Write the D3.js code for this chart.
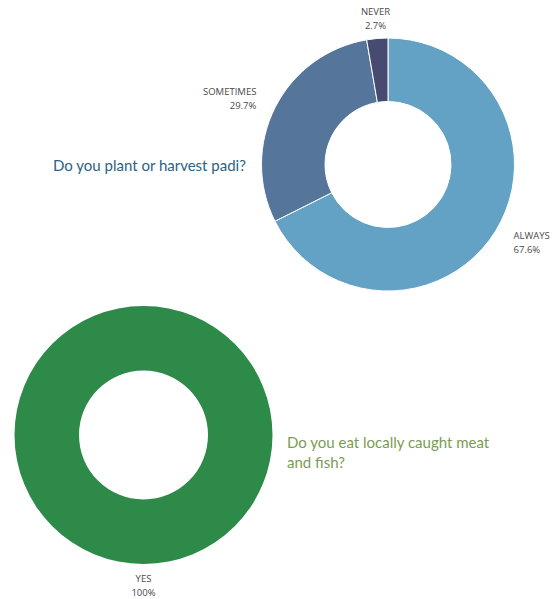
<!DOCTYPE html>
<html>
<head>
<meta charset="utf-8">
<script src="https://cdn.jsdelivr.net/npm/d3@7"></script>
<style>
  body { margin: 0; background: #fff; }
  .label { font-family: "Open Sans", sans-serif; font-size: 9.5px; fill: #4a4a4a; }
  .title { font-family: Lato, sans-serif; font-size: 15px; }
</style>
</head>
<body>
<div class="canvas"></div>
<script>
const padiCategories = ['ALWAYS', 'SOMETIMES', 'NEVER'];
const padiValues = [67.6, 29.7, 2.7];
const padiColours = ['#63a2c4', '#56759a', '#474b70'];

const fishCategories = ['YES'];
const fishValues = [100];
const fishColours = ['#2e8a48'];

const dims = { width: 556, height: 599 };

const svg = d3.select('.canvas')
    .append('svg')
    .attr('width', dims.width)
    .attr('height', dims.height)
;

const pie = d3.pie()
    .sort(null)
    .value(v => v.value)
;

const drawDonut = (opts) => {
    const data = opts.categories.map((c, i) => ({ name: c, value: opts.values[i] }));
    const colour = d3.scaleOrdinal().domain(opts.categories).range(opts.colours);

    const arcPath = d3.arc()
        .outerRadius(opts.radius)
        .innerRadius(opts.inner)
    ;

    const graph = svg.append('g')
        .attr('transform', `translate(${opts.cx}, ${opts.cy})`)
    ;

    graph.selectAll('path')
        .data(pie(data))
        .enter()
        .append('path')
        .attr('d', arcPath)
        .attr('stroke', data.length > 1 ? 'white' : 'none')
        .attr('stroke-width', 1)
        .attr('fill', d => colour(d.data.name))
    ;

    // labels sit just outside the ring
    const labelR = opts.radius + 21;
    const labels = graph.selectAll('text.label')
        .data(pie(data))
        .enter()
        .append('text')
        .attr('class', 'label')
        .attr('transform', d => {
            const a = (d.startAngle + d.endAngle) / 2;
            return `translate(${Math.sin(a) * labelR}, ${-Math.cos(a) * labelR})`;
        })
        .attr('text-anchor', d => {
            const s = Math.sin((d.startAngle + d.endAngle) / 2);
            if (Math.abs(s) < 0.3) return 'middle';
            return s > 0 ? 'start' : 'end';
        })
    ;

    labels.append('tspan')
        .attr('x', 0)
        .attr('y', -3)
        .text(d => d.data.name)
    ;
    labels.append('tspan')
        .attr('x', 0)
        .attr('y', 11)
        .text(d => `${d.data.value}%`)
    ;
};

drawDonut({
    categories: padiCategories, values: padiValues, colours: padiColours,
    cx: 388, cy: 164.5, radius: 126.5, inner: 63
});

drawDonut({
    categories: fishCategories, values: fishValues, colours: fishColours,
    cx: 143.5, cy: 435, radius: 129, inner: 64.5
});

svg.append('text')
    .attr('class', 'title')
    .attr('x', 53)
    .attr('y', 171)
    .attr('fill', '#2b6284')
    .text('Do you plant or harvest padi?')
;

const fishTitle = svg.append('text')
    .attr('class', 'title')
    .attr('fill', '#7b9c54')
;
fishTitle.append('tspan').attr('x', 287).attr('y', 448).text('Do you eat locally caught meat');
fishTitle.append('tspan').attr('x', 287).attr('y', 468).text('and fish?');
</script>
</body>
</html>
